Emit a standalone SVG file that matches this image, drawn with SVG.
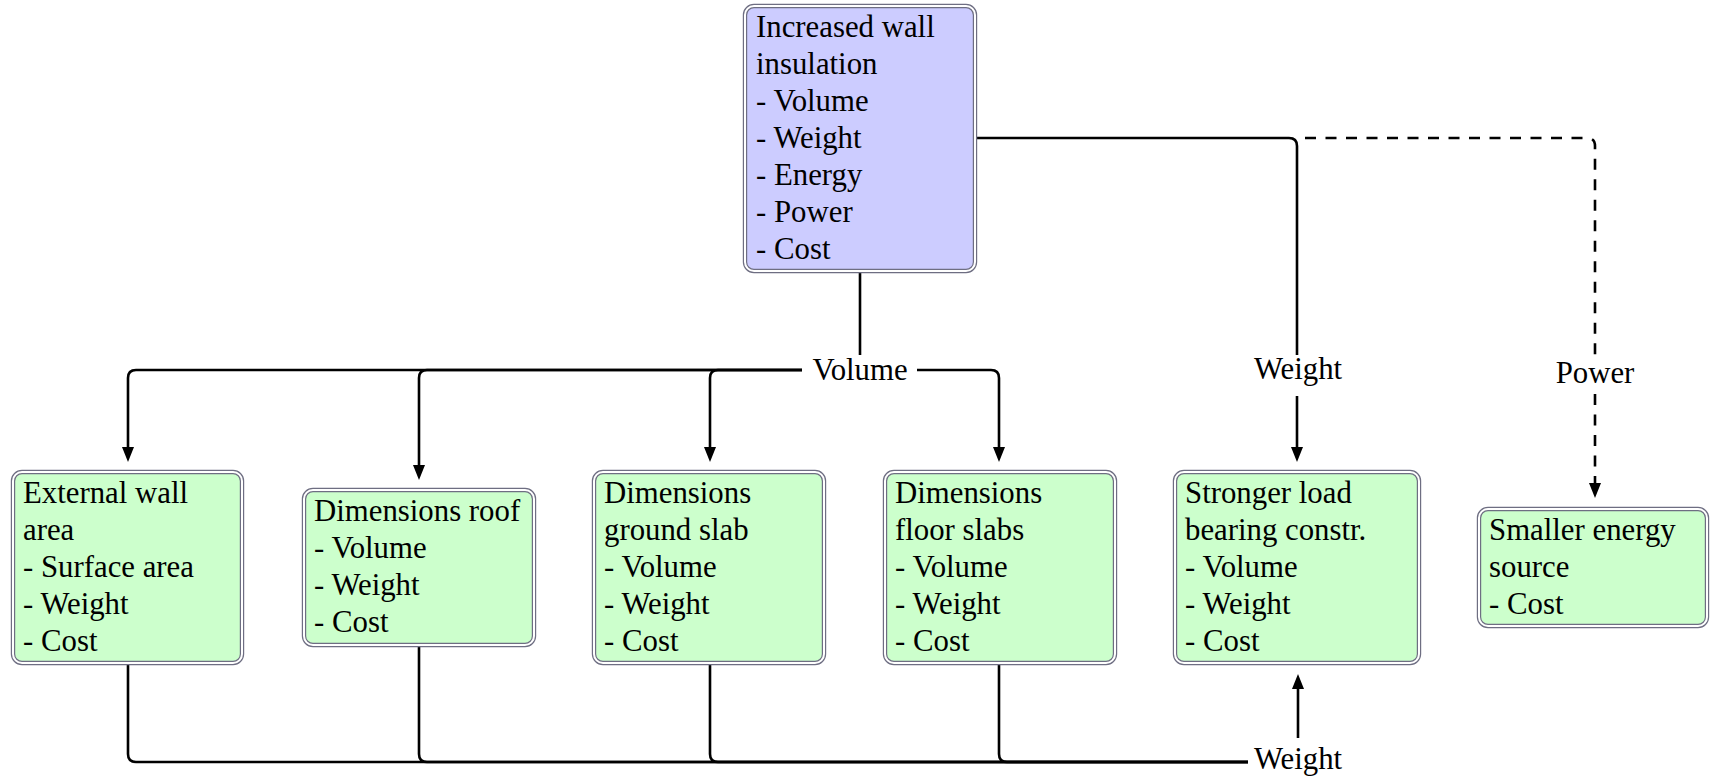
<svg xmlns="http://www.w3.org/2000/svg" width="1710" height="777" viewBox="0 0 1710 777">
<style>
.box{stroke:#6e6e82;stroke-width:4.4}
.gap{fill:none;stroke:#fff;stroke-width:2}
.blue{fill:#ccccff}
.green{fill:#ccffcc}
text{font-family:'Liberation Serif',serif;font-size:30.8px;fill:#000}
.lbl{text-anchor:middle}
.ln{fill:none;stroke:#000;stroke-width:2.6}
.dash{stroke-dasharray:11 9.5}
.arr{marker-end:url(#ah)}
</style>
<defs>
<marker id="ah" markerUnits="userSpaceOnUse" markerWidth="16" markerHeight="13" refX="5" refY="6" orient="auto">
<path d="M0,0 L15,6 L0,12 z" fill="#000"/>
</marker>
</defs>
<rect width="1710" height="777" fill="#fff"/>
<g id="connectors">
<path class="ln" d="M860,273 V355"/>
<path class="ln arr" d="M802,370 H136 Q128,370 128,378 V452"/>
<path class="ln arr" d="M802,370 H427 Q419,370 419,378 V470"/>
<path class="ln arr" d="M802,370 H718 Q710,370 710,378 V452"/>
<path class="ln arr" d="M917,370 H991 Q999,370 999,378 V452"/>
<path class="ln dash" d="M1305,138 H1587 Q1595,138 1595,146 V355"/>
<path class="ln dash arr" d="M1595,394 V488"/>
<path class="ln" d="M977,138 H1289 Q1297,138 1297,146 V355"/>
<path class="ln arr" d="M1297,396 V452"/>
<path class="ln" d="M128,665 V754 Q128,762 136,762 H1248"/>
<path class="ln" d="M419,646 V754 Q419,762 427,762 H1248"/>
<path class="ln" d="M710,665 V754 Q710,762 718,762 H1248"/>
<path class="ln" d="M999,665 V754 Q999,762 1007,762 H1248"/>
<path class="ln arr" d="M1298,738 V684"/>
<text class="lbl" x="860" y="380" font-family="Liberation Serif">Volume</text>
<text class="lbl" x="1298" y="379" font-family="Liberation Serif">Weight</text>
<text class="lbl" x="1595" y="383" font-family="Liberation Serif">Power</text>
<text class="lbl" x="1298" y="769" font-family="Liberation Serif">Weight</text>
</g>
<g id="n-insulation">
<rect class="box blue" x="745" y="6" width="230" height="265" rx="9"/>
<rect class="gap" x="745" y="6" width="230" height="265" rx="9"/>
<text x="756" y="37" font-family="Liberation Serif">Increased wall<tspan x="756" y="74">insulation</tspan><tspan x="756" y="111">- Volume</tspan><tspan x="756" y="148">- Weight</tspan><tspan x="756" y="185">- Energy</tspan><tspan x="756" y="222">- Power</tspan><tspan x="756" y="259">- Cost</tspan></text>
</g>
<g id="n-extwall">
<rect class="box green" x="13" y="472" width="229" height="191" rx="9"/>
<rect class="gap" x="13" y="472" width="229" height="191" rx="9"/>
<text x="23" y="503" font-family="Liberation Serif">External wall<tspan x="23" y="540">area</tspan><tspan x="23" y="577">- Surface area</tspan><tspan x="23" y="614">- Weight</tspan><tspan x="23" y="651">- Cost</tspan></text>
</g>
<g id="n-roof">
<rect class="box green" x="304" y="490" width="230" height="155" rx="9"/>
<rect class="gap" x="304" y="490" width="230" height="155" rx="9"/>
<text x="314" y="521" font-family="Liberation Serif">Dimensions roof<tspan x="314" y="558">- Volume</tspan><tspan x="314" y="595">- Weight</tspan><tspan x="314" y="632">- Cost</tspan></text>
</g>
<g id="n-ground">
<rect class="box green" x="594" y="472" width="230" height="191" rx="9"/>
<rect class="gap" x="594" y="472" width="230" height="191" rx="9"/>
<text x="604" y="503" font-family="Liberation Serif">Dimensions<tspan x="604" y="540">ground slab</tspan><tspan x="604" y="577">- Volume</tspan><tspan x="604" y="614">- Weight</tspan><tspan x="604" y="651">- Cost</tspan></text>
</g>
<g id="n-floor">
<rect class="box green" x="885" y="472" width="230" height="191" rx="9"/>
<rect class="gap" x="885" y="472" width="230" height="191" rx="9"/>
<text x="895" y="503" font-family="Liberation Serif">Dimensions<tspan x="895" y="540">floor slabs</tspan><tspan x="895" y="577">- Volume</tspan><tspan x="895" y="614">- Weight</tspan><tspan x="895" y="651">- Cost</tspan></text>
</g>
<g id="n-loadbearing">
<rect class="box green" x="1175" y="472" width="244" height="191" rx="9"/>
<rect class="gap" x="1175" y="472" width="244" height="191" rx="9"/>
<text x="1185" y="503" font-family="Liberation Serif">Stronger load<tspan x="1185" y="540">bearing constr.</tspan><tspan x="1185" y="577">- Volume</tspan><tspan x="1185" y="614">- Weight</tspan><tspan x="1185" y="651">- Cost</tspan></text>
</g>
<g id="n-energy">
<rect class="box green" x="1479" y="509" width="228" height="117" rx="9"/>
<rect class="gap" x="1479" y="509" width="228" height="117" rx="9"/>
<text x="1489" y="540" font-family="Liberation Serif">Smaller energy<tspan x="1489" y="577">source</tspan><tspan x="1489" y="614">- Cost</tspan></text>
</g>
</svg>
